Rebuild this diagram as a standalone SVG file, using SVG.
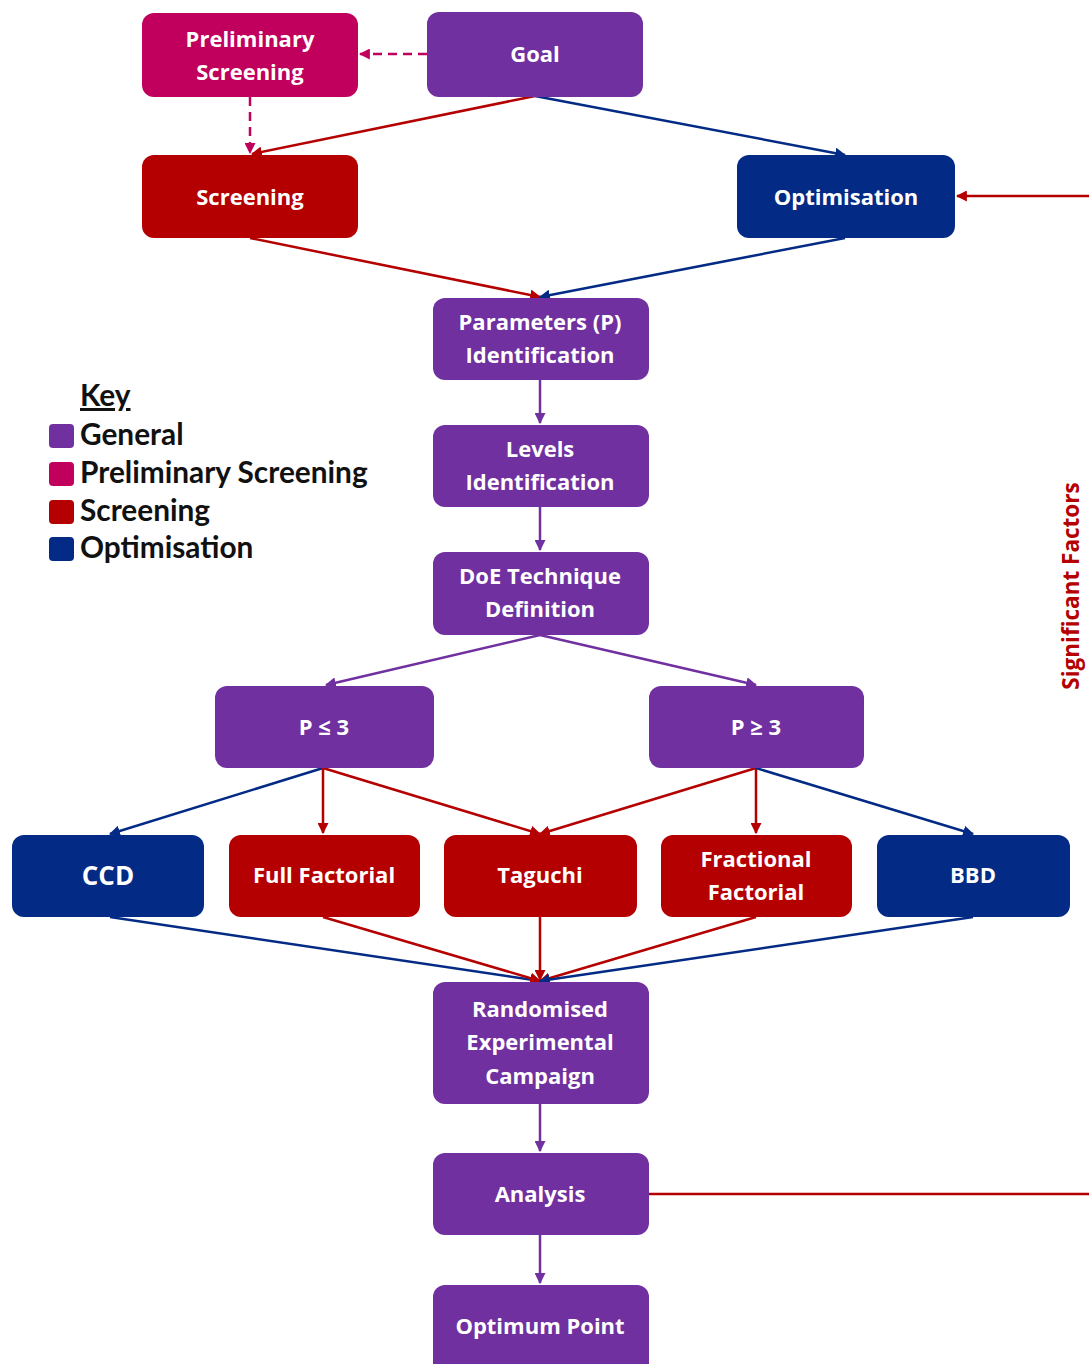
<svg xmlns="http://www.w3.org/2000/svg" width="1089" height="1364" viewBox="0 0 1089 1364">
<defs>
<marker id="aP" viewBox="0 0 10 10" refX="9" refY="5" markerWidth="4.4" markerHeight="4.4" orient="auto" markerUnits="strokeWidth"><path d="M0,0L10,5L0,10z" fill="#7030A0"/></marker>
<marker id="aR" viewBox="0 0 10 10" refX="9" refY="5" markerWidth="4.4" markerHeight="4.4" orient="auto" markerUnits="strokeWidth"><path d="M0,0L10,5L0,10z" fill="#B40000"/></marker>
<marker id="aB" viewBox="0 0 10 10" refX="9" refY="5" markerWidth="4.4" markerHeight="4.4" orient="auto" markerUnits="strokeWidth"><path d="M0,0L10,5L0,10z" fill="#032A84"/></marker>
<marker id="aM" viewBox="0 0 10 10" refX="9" refY="5" markerWidth="4.4" markerHeight="4.4" orient="auto" markerUnits="strokeWidth"><path d="M0,0L10,5L0,10z" fill="#C0005C"/></marker>
</defs>
<style>
.gen{fill:#7030A0}
.pre{fill:#C0005C}
.scr{fill:#B40000}
.opt{fill:#032A84}
.t{font-family:"Open Sans",Lato,sans-serif;font-weight:bold;font-size:22px;fill:#fff;text-anchor:middle}
.k{font-family:Lato,"Open Sans",sans-serif;font-weight:bold;font-size:29.8px;fill:#111}
.c{fill:none;stroke-width:2.5}
.cp{stroke:#7030A0;marker-end:url(#aP)}
.cr{stroke:#B40000;marker-end:url(#aR)}
.cb{stroke:#032A84;marker-end:url(#aB)}
.cm{stroke:#C0005C;stroke-dasharray:9 6;marker-end:url(#aM)}
</style>
<rect width="1089" height="1364" fill="#fff"/>
<g id="connectors">
<path class="c cm" d="M427,54H360"/>
<path class="c cm" d="M250,97V153"/>
<path class="c cr" d="M535,96L252,154"/>
<path class="c cb" d="M535,96L845,155"/>
<path class="c cr" d="M250,238L540,297"/>
<path class="c cb" d="M845,238L540,297"/>
<path class="c cp" d="M540,380V423"/>
<path class="c cp" d="M540,507V550"/>
<path class="c cp" d="M540,635L326,685"/>
<path class="c cp" d="M540,635L756,685"/>
<path class="c cb" d="M323,768L110,834"/>
<path class="c cr" d="M323,768V833"/>
<path class="c cr" d="M323,768L540,834"/>
<path class="c cr" d="M756,768L540,834"/>
<path class="c cr" d="M756,768V833"/>
<path class="c cb" d="M756,768L973,834"/>
<path class="c cb" d="M110,917L540,981"/>
<path class="c cr" d="M323,917L540,981"/>
<path class="c cr" d="M540,917V980"/>
<path class="c cr" d="M756,917L540,981"/>
<path class="c cb" d="M973,917L540,981"/>
<path class="c cp" d="M540,1104V1151"/>
<path class="c cp" d="M540,1235V1283"/>
<path class="c cr" d="M649,1194H1094V196H957"/>
</g>
<g id="prelim"><rect class="pre" x="142" y="13" width="216" height="84" rx="12"/><text class="t" x="250" y="47">Preliminary</text><text class="t" x="250" y="80">Screening</text></g>
<g id="goal"><rect class="gen" x="427" y="12" width="216" height="85" rx="12"/><text class="t" x="535" y="62">Goal</text></g>
<g id="screening"><rect class="scr" x="142" y="155" width="216" height="83" rx="12"/><text class="t" x="250" y="205">Screening</text></g>
<g id="optimisation"><rect class="opt" x="737" y="155" width="218" height="83" rx="12"/><text class="t" x="846" y="205">Optimisation</text></g>
<g id="parameters"><rect class="gen" x="433" y="298" width="216" height="82" rx="12"/><text class="t" x="540" y="330">Parameters (P)</text><text class="t" x="540" y="363">Identification</text></g>
<g id="levels"><rect class="gen" x="433" y="425" width="216" height="82" rx="12"/><text class="t" x="540" y="457">Levels</text><text class="t" x="540" y="490">Identification</text></g>
<g id="doe"><rect class="gen" x="433" y="552" width="216" height="83" rx="12"/><text class="t" x="540" y="584">DoE Technique</text><text class="t" x="540" y="617">Definition</text></g>
<g id="ple3"><rect class="gen" x="215" y="686" width="219" height="82" rx="12"/><text class="t" x="324" y="735">P ≤ 3</text></g>
<g id="pge3"><rect class="gen" x="649" y="686" width="215" height="82" rx="12"/><text class="t" x="756" y="735">P ≥ 3</text></g>
<g id="ccd"><rect class="opt" x="12" y="835" width="192" height="82" rx="12"/><text class="t" x="108" y="885" style="font-size:26px">CCD</text></g>
<g id="full"><rect class="scr" x="229" y="835" width="191" height="82" rx="12"/><text class="t" x="324" y="883">Full Factorial</text></g>
<g id="taguchi"><rect class="scr" x="444" y="835" width="193" height="82" rx="12"/><text class="t" x="540" y="883">Taguchi</text></g>
<g id="fractional"><rect class="scr" x="661" y="835" width="191" height="82" rx="12"/><text class="t" x="756" y="867">Fractional</text><text class="t" x="756" y="900">Factorial</text></g>
<g id="bbd"><rect class="opt" x="877" y="835" width="193" height="82" rx="12"/><text class="t" x="973" y="883">BBD</text></g>
<g id="randomised"><rect class="gen" x="433" y="982" width="216" height="122" rx="12"/><text class="t" x="540" y="1017">Randomised</text><text class="t" x="540" y="1050">Experimental</text><text class="t" x="540" y="1084">Campaign</text></g>
<g id="analysis"><rect class="gen" x="433" y="1153" width="216" height="82" rx="12"/><text class="t" x="540" y="1202">Analysis</text></g>
<g id="optimum"><rect class="gen" x="433" y="1285" width="216" height="90" rx="12"/><text class="t" x="540" y="1334">Optimum Point</text></g>
<g id="sigfactors"><text x="1079" y="586" transform="rotate(-90 1079 586)" style="font-family:'Open Sans',Lato,sans-serif;font-weight:bold;font-size:22.5px;fill:#B40000;text-anchor:middle">Significant Factors</text></g>
<g id="key">
<text class="k" x="80" y="406" text-decoration="underline">Key</text>
<rect class="gen" x="49" y="424" width="25" height="24" rx="4"/><text class="k" x="80" y="445">General</text>
<rect class="pre" x="49" y="462" width="25" height="24" rx="4"/><text class="k" x="80" y="483">Preliminary Screening</text>
<rect class="scr" x="49" y="500" width="25" height="24" rx="4"/><text class="k" x="80" y="521">Screening</text>
<rect class="opt" x="49" y="537" width="25" height="24" rx="4"/><text class="k" x="80" y="558">Optimisation</text>
</g>
</svg>
